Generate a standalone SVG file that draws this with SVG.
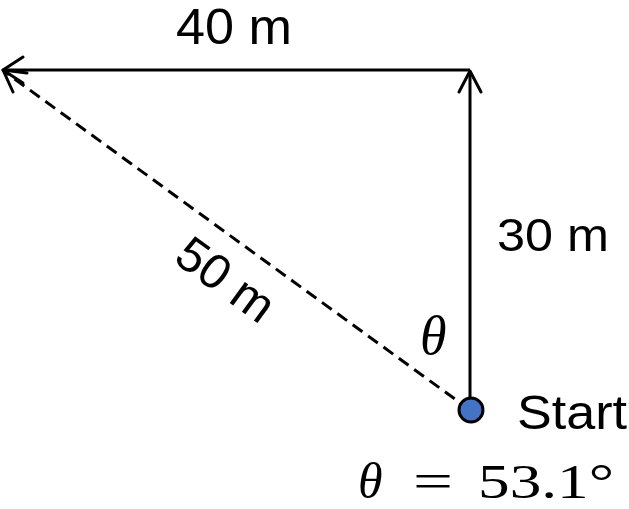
<svg xmlns="http://www.w3.org/2000/svg" width="629" height="509" viewBox="0 0 629 509">
<style>
.ln{stroke:#000;stroke-width:3;fill:none}
.ah{stroke:#000;stroke-width:3;fill:none;stroke-linecap:round;stroke-linejoin:round}
.lbl{font-family:"Liberation Sans",Arial,sans-serif;fill:#000}
.math{font-family:"Liberation Serif","Times New Roman",serif;fill:#000}
</style>
<rect width="629" height="509" fill="#fff"/>
<g id="connectors">
<line class="ln" x1="470" y1="70" x2="4" y2="70"/>
<polyline class="ah" points="23,57 3,70 23,83"/>
<line class="ln" x1="470" y1="410" x2="470" y2="72"/>
<polyline class="ah" points="459,92 470,71 481,92"/>
<line class="ln" x1="470" y1="410" x2="5" y2="72" stroke-dasharray="12,7"/>
<polyline class="ah" points="13,92 3,70 27,73"/>
</g>
<g id="start">
<circle cx="471" cy="410" r="12" fill="#4472C4" stroke="#000" stroke-width="3"/>
<text class="lbl" x="517" y="429" font-size="48" textLength="110" lengthAdjust="spacingAndGlyphs">Start</text>
</g>
<g id="labels">
<text class="lbl" x="176" y="44" font-size="50" textLength="116" lengthAdjust="spacingAndGlyphs">40 m</text>
<text class="lbl" x="497" y="251" font-size="47" textLength="112" lengthAdjust="spacingAndGlyphs">30 m</text>
<text class="lbl" transform="translate(216,293) rotate(36)" text-anchor="middle" font-size="49">50 m</text>
<text class="math" x="420" y="354" font-size="54" font-style="italic">θ</text>
<text class="math" x="358" y="498" font-size="50" font-style="italic">θ</text>
<text class="math" x="413" y="498" font-size="50" textLength="40" lengthAdjust="spacingAndGlyphs">=</text>
<text class="math" x="478" y="498" font-size="48" textLength="136" lengthAdjust="spacingAndGlyphs">53.1°</text>
</g>
</svg>
